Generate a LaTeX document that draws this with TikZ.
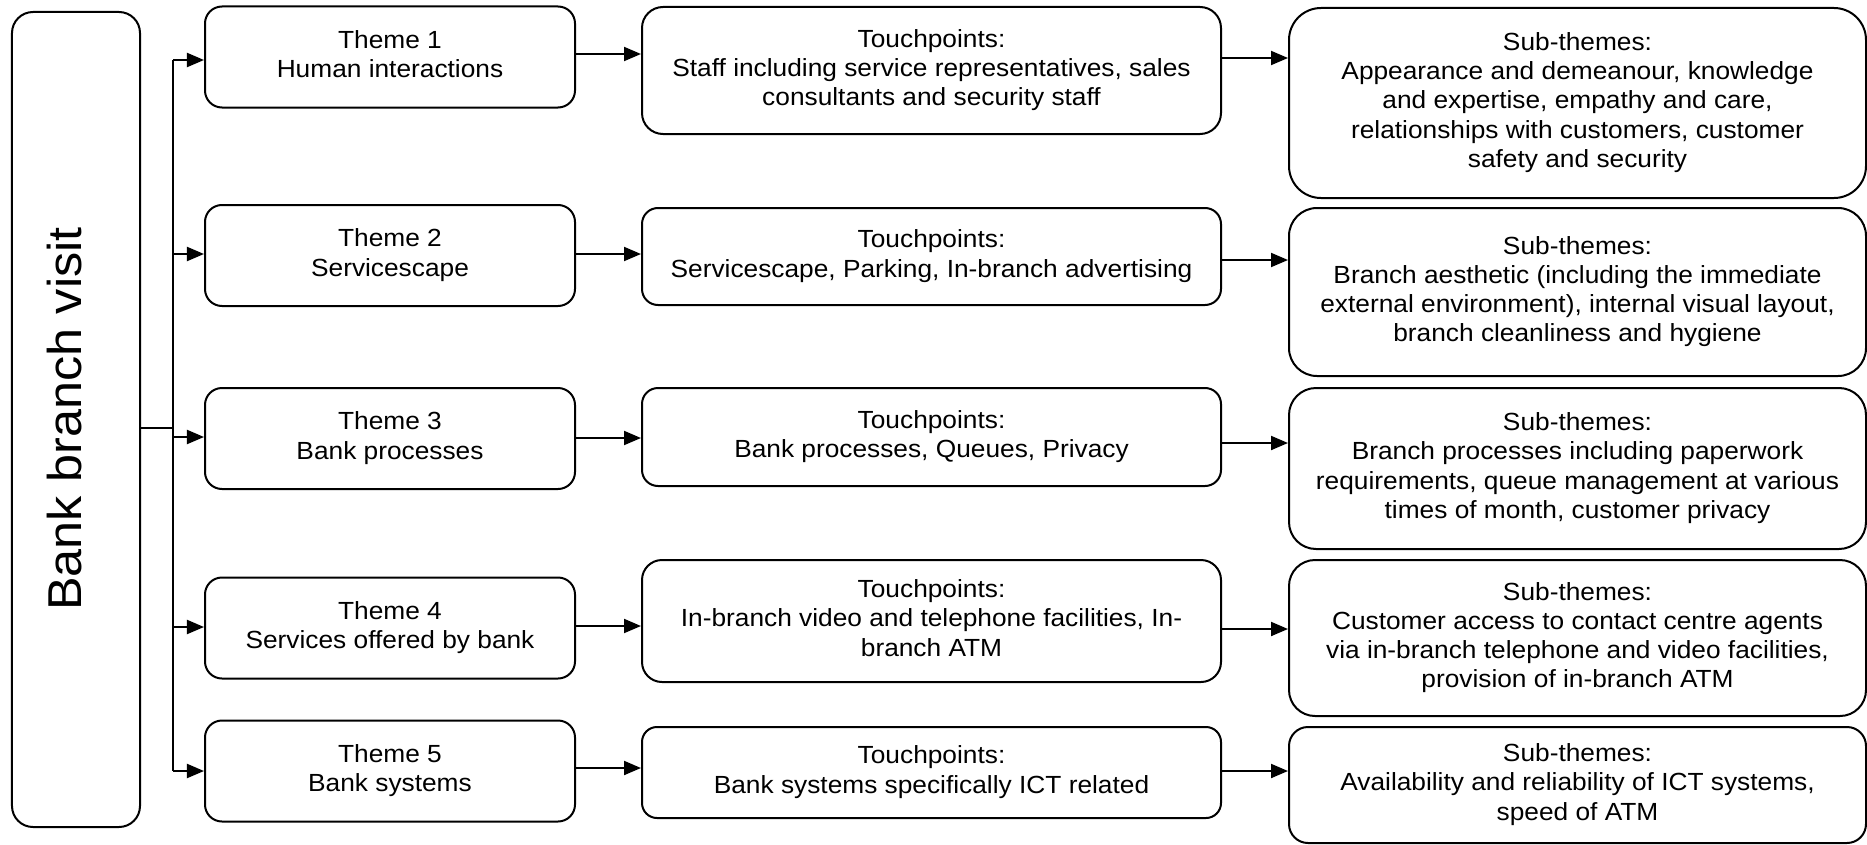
\documentclass[tikz,border=0pt]{standalone}
\usepackage{fontspec}
\setmainfont{Liberation Sans}[FakeStretch=1.06]
\usetikzlibrary{arrows.meta}
\begin{document}
\begin{tikzpicture}[x=1bp,y=-1bp,
  box/.style={draw, line width=2bp, align=center, inner sep=0pt,
    execute at begin node={\rule{0pt}{18bp}},
    execute at end node={\rule[-6bp]{0pt}{6bp}},
    font=\fontsize{24.8bp}{29.2bp}\selectfont},
  frame/.style={draw, line width=2bp, inner sep=0pt},
  theme/.style={box, minimum width=370bp, minimum height=101bp, rounded corners=17bp},
  touch/.style={box, minimum width=579bp},
  sub/.style={box, minimum width=577bp},
  link/.style={line width=2bp},
  arr/.style={link, -{Triangle[length=17bp,width=14bp]}}]
\useasboundingbox (0,0) rectangle (1867,845);

% root box with its vertical caption
\node[frame, minimum width=128bp, minimum height=815bp, rounded corners=21bp] (root) at (76,419.5) {};
\node[font=\fontsize{47.5bp}{57bp}\selectfont, rotate=90, inner sep=0pt] (rootlbl) at (65,419) {Bank branch visit};

% themes
\node[theme] (t1) at (390,57) {Theme 1\\Human interactions};
\node[theme] (t2) at (390,255.5) {Theme 2\\Servicescape};
\node[theme] (t3) at (390,438.5) {Theme 3\\Bank processes};
\node[theme] (t4) at (390,628) {Theme 4\\Services offered by bank};
\node[theme] (t5) at (390,771) {Theme 5\\Bank systems};

% touchpoints
\node[touch, minimum height=127bp, rounded corners=21bp] (p1) at (931.5,70.5)
  {Touchpoints:\\Staff including service representatives, sales\\consultants and security staff};
\node[touch, minimum height=97bp, rounded corners=16bp] (p2) at (931.5,256.5)
  {Touchpoints:\\Servicescape, Parking, In-branch advertising};
\node[touch, minimum height=98bp, rounded corners=16bp] (p3) at (931.5,437)
  {Touchpoints:\\Bank processes, Queues, Privacy};
\node[touch, minimum height=122bp, rounded corners=20bp] (p4) at (931.5,621)
  {Touchpoints:\\In-branch video and telephone facilities, In-\\branch ATM};
\node[touch, minimum height=91bp, rounded corners=15bp] (p5) at (931.5,772.5)
  {Touchpoints:\\Bank systems specifically ICT related};

% sub-themes
\node[sub, minimum height=190bp, rounded corners=32bp] (s1) at (1577.5,103)
  {Sub-themes:\\Appearance and demeanour, knowledge\\and expertise, empathy and care,\\relationships with customers, customer\\safety and security};
\node[sub, minimum height=168bp, rounded corners=28bp] (s2) at (1577.5,292)
  {Sub-themes:\\Branch aesthetic (including the immediate\\external environment), internal visual layout,\\branch cleanliness and hygiene};
\node[sub, minimum height=161bp, rounded corners=27bp] (s3) at (1577.5,468.5)
  {Sub-themes:\\Branch processes including paperwork\\requirements, queue management at various\\times of month, customer privacy};
\node[sub, minimum height=156bp, rounded corners=26bp] (s4) at (1577.5,638)
  {Sub-themes:\\Customer access to contact centre agents\\via in-branch telephone and video facilities,\\provision of in-branch ATM};
\node[sub, minimum height=116bp, rounded corners=19bp] (s5) at (1577.5,785)
  {Sub-themes:\\Availability and reliability of ICT systems,\\speed of ATM};

% branching trunk
\coordinate (b1) at (173,60);
\coordinate (b2) at (173,254);
\coordinate (b3) at (173,437);
\coordinate (b4) at (173,627);
\coordinate (b5) at (173,771);
\coordinate (junc) at (173,428);
\draw[link] (b1) -- (b5);
\draw[link] (root.east |- junc) -- (junc);
\foreach \i in {1,...,5} \draw[arr] (b\i) -- (t\i.west |- b\i);

% theme -> touchpoints -> sub-themes
\draw[arr] (t1.east |- 0,54)  -- (p1.west |- 0,54);
\draw[arr] (t2.east |- 0,254) -- (p2.west |- 0,254);
\draw[arr] (t3.east |- 0,438) -- (p3.west |- 0,438);
\draw[arr] (t4.east |- 0,626) -- (p4.west |- 0,626);
\draw[arr] (t5.east |- 0,768) -- (p5.west |- 0,768);

\draw[arr] (p1.east |- 0,58)  -- (s1.west |- 0,58);
\draw[arr] (p2.east |- 0,260) -- (s2.west |- 0,260);
\draw[arr] (p3.east |- 0,443) -- (s3.west |- 0,443);
\draw[arr] (p4.east |- 0,629) -- (s4.west |- 0,629);
\draw[arr] (p5.east |- 0,771) -- (s5.west |- 0,771);
\end{tikzpicture}
\end{document}
